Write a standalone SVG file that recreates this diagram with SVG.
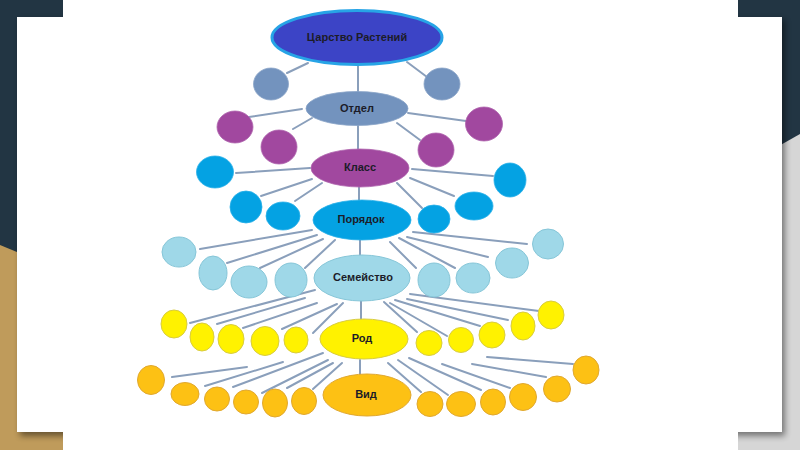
<svg xmlns="http://www.w3.org/2000/svg" width="800" height="450" viewBox="0 0 800 450">
<defs>
<filter id="sh" x="-5%" y="-5%" width="110%" height="110%"><feGaussianBlur stdDeviation="3"/></filter>
</defs>
<style>
.lbl{font-family:"Liberation Sans",Arial,sans-serif;font-weight:bold;font-size:11px;fill:#1c1c28;text-anchor:middle;dominant-baseline:central}
.ln{stroke:#8a9fbb;stroke-width:2;fill:none;stroke-linecap:round}
.l0{fill:#3c44c6;stroke:#27a4e6;stroke-width:3}
.l1{fill:#7393be;stroke:#8aa4c8;stroke-width:0.8}
.l2{fill:#a1489f;stroke:#b066ae;stroke-width:0.8}
.l3{fill:#04a2e3;stroke:#2ab0e8;stroke-width:0.8}
.l4{fill:#9fd8e8;stroke:#86c6d8;stroke-width:1}
.l5{fill:#fff200;stroke:#d8cc40;stroke-width:1}
.l6{fill:#fdc114;stroke:#e0a830;stroke-width:1}
</style>
<!-- background -->
<rect width="800" height="450" fill="#223543"/>
<polygon points="0,245 63,271 63,450 0,450" fill="#bf9b5b"/>
<polygon points="738,169 800,134 800,450 738,450" fill="#d6d6d6"/>
<rect x="20" y="20" width="765" height="416" fill="#000" opacity="0.45" filter="url(#sh)"/>
<rect x="17" y="17" width="765" height="415" fill="#ffffff"/>
<rect x="63" y="0" width="675" height="450" fill="#ffffff"/>

<g id="connectors">
<line class="ln" x1="358" y1="65" x2="358" y2="92"/>
<line class="ln" x1="358" y1="125" x2="358" y2="150"/>
<line class="ln" x1="359" y1="186" x2="359" y2="200"/>
<line class="ln" x1="360" y1="240" x2="360" y2="255"/>
<line class="ln" x1="361" y1="300" x2="361" y2="319"/>
<line class="ln" x1="360" y1="360" x2="360" y2="374"/>
<line class="ln" x1="308" y1="63" x2="287" y2="73"/>
<line class="ln" x1="407" y1="62" x2="427" y2="77"/>
<line class="ln" x1="302" y1="109" x2="249" y2="117"/>
<line class="ln" x1="312" y1="118" x2="293" y2="129"/>
<line class="ln" x1="408" y1="113" x2="466" y2="121"/>
<line class="ln" x1="397" y1="123" x2="420" y2="140"/>
<line class="ln" x1="310" y1="168" x2="236" y2="173"/>
<line class="ln" x1="312" y1="179" x2="261" y2="196"/>
<line class="ln" x1="322" y1="183" x2="295" y2="201"/>
<line class="ln" x1="412" y1="169" x2="493" y2="176"/>
<line class="ln" x1="410" y1="178" x2="454" y2="196"/>
<line class="ln" x1="397" y1="183" x2="422" y2="208"/>
<line class="ln" x1="312" y1="230" x2="200" y2="249"/>
<line class="ln" x1="317" y1="235" x2="227" y2="263"/>
<line class="ln" x1="323" y1="239" x2="260" y2="268"/>
<line class="ln" x1="335" y1="240" x2="305" y2="268"/>
<line class="ln" x1="390" y1="242" x2="416" y2="268"/>
<line class="ln" x1="399" y1="238" x2="455" y2="268"/>
<line class="ln" x1="407" y1="237" x2="488" y2="257"/>
<line class="ln" x1="413" y1="232" x2="527" y2="244"/>
<line class="ln" x1="315" y1="290" x2="190" y2="323"/>
<line class="ln" x1="305" y1="298" x2="217" y2="324"/>
<line class="ln" x1="317" y1="303" x2="243" y2="328"/>
<line class="ln" x1="337" y1="304" x2="282" y2="329"/>
<line class="ln" x1="343" y1="303" x2="313" y2="333"/>
<line class="ln" x1="384" y1="302" x2="417" y2="332"/>
<line class="ln" x1="390" y1="303" x2="447" y2="336"/>
<line class="ln" x1="395" y1="300" x2="480" y2="326"/>
<line class="ln" x1="407" y1="299" x2="508" y2="320"/>
<line class="ln" x1="410" y1="294" x2="539" y2="311"/>
<line class="ln" x1="247" y1="367" x2="172" y2="377"/>
<line class="ln" x1="283" y1="362" x2="205" y2="386"/>
<line class="ln" x1="323" y1="353" x2="233" y2="387"/>
<line class="ln" x1="328" y1="360" x2="262" y2="393"/>
<line class="ln" x1="333" y1="363" x2="287" y2="388"/>
<line class="ln" x1="342" y1="363" x2="313" y2="389"/>
<line class="ln" x1="388" y1="363" x2="421" y2="392"/>
<line class="ln" x1="398" y1="360" x2="448" y2="395"/>
<line class="ln" x1="409" y1="358" x2="481" y2="390"/>
<line class="ln" x1="442" y1="364" x2="510" y2="388"/>
<line class="ln" x1="472" y1="364" x2="546" y2="377"/>
<line class="ln" x1="487" y1="357" x2="573" y2="364"/>
</g>

<g id="n-tsarstvo"><ellipse class="l0" cx="357" cy="37.5" rx="85" ry="27"/><text class="lbl" x="357" y="37">Царство Растений</text></g>
<g id="n-otdel"><ellipse class="l1" cx="357" cy="108.5" rx="51" ry="17"/><text class="lbl" x="357" y="108">Отдел</text></g>
<g id="n-klass"><ellipse class="l2" cx="360" cy="168" rx="49" ry="19"/><text class="lbl" x="360" y="167">Класс</text></g>
<g id="n-poryadok"><ellipse class="l3" cx="362" cy="220" rx="49" ry="20"/><text class="lbl" x="361" y="219">Порядок</text></g>
<g id="n-semeystvo"><ellipse class="l4" cx="362" cy="278" rx="48" ry="23"/><text class="lbl" x="363" y="277">Семейство</text></g>
<g id="n-rod"><ellipse class="l5" cx="364" cy="339" rx="44" ry="20"/><text class="lbl" x="362" y="338">Род</text></g>
<g id="n-vid"><ellipse class="l6" cx="367" cy="395" rx="44" ry="21"/><text class="lbl" x="366" y="394">Вид</text></g>

<g id="n-otdel-sub1"><ellipse class="l1" cx="271" cy="84" rx="17.5" ry="16"/></g>
<g id="n-otdel-sub2"><ellipse class="l1" cx="442" cy="84" rx="18" ry="16"/></g>

<g id="n-klass-sub1"><ellipse class="l2" cx="235" cy="127" rx="18" ry="16"/></g>
<g id="n-klass-sub2"><ellipse class="l2" cx="279" cy="147" rx="18" ry="17"/></g>
<g id="n-klass-sub3"><ellipse class="l2" cx="436" cy="150" rx="18" ry="17"/></g>
<g id="n-klass-sub4"><ellipse class="l2" cx="484" cy="124" rx="18.5" ry="17"/></g>

<g id="n-por-sub1"><ellipse class="l3" cx="215" cy="172" rx="18.5" ry="16"/></g>
<g id="n-por-sub2"><ellipse class="l3" cx="246" cy="207" rx="16" ry="16"/></g>
<g id="n-por-sub3"><ellipse class="l3" cx="283" cy="216" rx="17" ry="14"/></g>
<g id="n-por-sub4"><ellipse class="l3" cx="434" cy="219" rx="16" ry="14"/></g>
<g id="n-por-sub5"><ellipse class="l3" cx="474" cy="206" rx="19" ry="14"/></g>
<g id="n-por-sub6"><ellipse class="l3" cx="510" cy="180" rx="16" ry="17"/></g>

<g id="n-sem-sub1"><ellipse class="l4" cx="179" cy="252" rx="17" ry="15"/></g>
<g id="n-sem-sub2"><ellipse class="l4" cx="213" cy="273" rx="14" ry="17"/></g>
<g id="n-sem-sub3"><ellipse class="l4" cx="249" cy="282" rx="18" ry="16"/></g>
<g id="n-sem-sub4"><ellipse class="l4" cx="291" cy="280" rx="16" ry="17"/></g>
<g id="n-sem-sub5"><ellipse class="l4" cx="434" cy="280" rx="16" ry="17"/></g>
<g id="n-sem-sub6"><ellipse class="l4" cx="473" cy="278" rx="17" ry="15"/></g>
<g id="n-sem-sub7"><ellipse class="l4" cx="512" cy="263" rx="16.5" ry="15"/></g>
<g id="n-sem-sub8"><ellipse class="l4" cx="548" cy="244" rx="15.5" ry="15"/></g>

<g id="n-rod-sub1"><ellipse class="l5" cx="174" cy="324" rx="13" ry="14"/></g>
<g id="n-rod-sub2"><ellipse class="l5" cx="202" cy="337" rx="12" ry="14"/></g>
<g id="n-rod-sub3"><ellipse class="l5" cx="231" cy="339" rx="13" ry="14.5"/></g>
<g id="n-rod-sub4"><ellipse class="l5" cx="265" cy="341" rx="14" ry="14.5"/></g>
<g id="n-rod-sub5"><ellipse class="l5" cx="296" cy="340" rx="12" ry="13"/></g>
<g id="n-rod-sub6"><ellipse class="l5" cx="429" cy="343" rx="13" ry="12.5"/></g>
<g id="n-rod-sub7"><ellipse class="l5" cx="461" cy="340" rx="12.5" ry="12.5"/></g>
<g id="n-rod-sub8"><ellipse class="l5" cx="492" cy="335" rx="13" ry="13"/></g>
<g id="n-rod-sub9"><ellipse class="l5" cx="523" cy="326" rx="12" ry="14"/></g>
<g id="n-rod-sub10"><ellipse class="l5" cx="551" cy="315" rx="13" ry="14"/></g>

<g id="n-vid-sub1"><ellipse class="l6" cx="151" cy="380" rx="13.5" ry="14.5"/></g>
<g id="n-vid-sub2"><ellipse class="l6" cx="185" cy="394" rx="14" ry="11.5"/></g>
<g id="n-vid-sub3"><ellipse class="l6" cx="217" cy="399" rx="12.5" ry="12"/></g>
<g id="n-vid-sub4"><ellipse class="l6" cx="246" cy="402" rx="12.5" ry="12"/></g>
<g id="n-vid-sub5"><ellipse class="l6" cx="275" cy="403" rx="12.5" ry="14"/></g>
<g id="n-vid-sub6"><ellipse class="l6" cx="304" cy="401" rx="12.5" ry="13.5"/></g>
<g id="n-vid-sub7"><ellipse class="l6" cx="430" cy="404" rx="13" ry="12.5"/></g>
<g id="n-vid-sub8"><ellipse class="l6" cx="461" cy="404" rx="14.5" ry="12.5"/></g>
<g id="n-vid-sub9"><ellipse class="l6" cx="493" cy="402" rx="12.5" ry="13"/></g>
<g id="n-vid-sub10"><ellipse class="l6" cx="523" cy="397" rx="13.5" ry="13.5"/></g>
<g id="n-vid-sub11"><ellipse class="l6" cx="557" cy="389" rx="13.5" ry="13"/></g>
<g id="n-vid-sub12"><ellipse class="l6" cx="586" cy="370" rx="13" ry="14"/></g>
</svg>
